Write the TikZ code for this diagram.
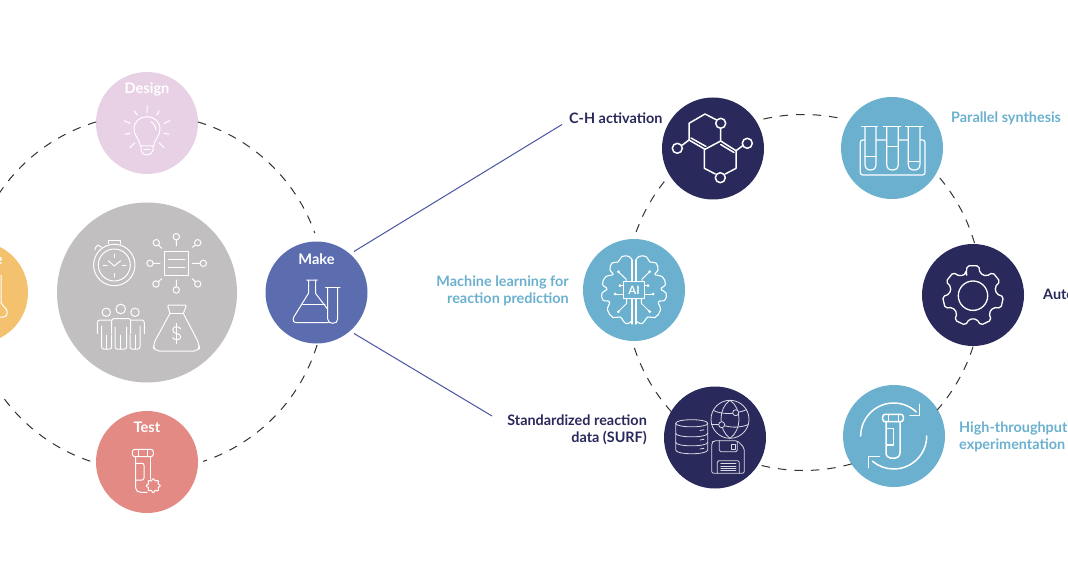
\documentclass[tikz,border=0pt]{standalone}
\usepackage{fontspec}
\setmainfont{Lato}
\definecolor{navy}{HTML}{29295B}
\definecolor{sky}{HTML}{6BB1CF}
\definecolor{cdesign}{HTML}{E8D0E5}
\definecolor{cgrey}{HTML}{C1BFC0}
\definecolor{cmake}{HTML}{5B6DAF}
\definecolor{ctest}{HTML}{E38A85}
\definecolor{corange}{HTML}{F4C16F}
\definecolor{cline}{HTML}{4A55A2}
\definecolor{cdash}{HTML}{333333}
\definecolor{cpale}{HTML}{DADAE6}
\tikzset{
  disc/.style={circle,inner sep=0pt,minimum size=102pt,draw=none},
  ring/.style={draw=cdash,line width=1pt,dash pattern=on 8.5pt off 8pt},
  lead/.style={draw=cline,line width=1pt},
  ico/.style={draw=white,line width=1pt,line cap=round,line join=round},
  icb/.style={draw=white,line width=1.5pt,line cap=round,line join=round},
  icp/.style={draw=cpale,line width=.8pt,line cap=round,line join=round},
  whitelab/.style={text=white,font=\fontsize{14.6}{15}\selectfont\bfseries,inner sep=0pt},
  navylab/.style={text=navy,font=\fontsize{14.4}{17}\selectfont\bfseries,inner sep=0pt},
  skylab/.style={text=sky,font=\fontsize{14.4}{17}\selectfont\bfseries,inner sep=0pt}
}
\begin{document}
\begin{tikzpicture}[x=1pt,y=-1pt]
\useasboundingbox (0,0) rectangle (1068,580);
\clip (0,0) rectangle (1068,580);
\fill[white] (0,0) rectangle (1068,580);
% ring centres
\coordinate (ringL) at (147,292.5);
\coordinate (ringR) at (803.5,292.5);
% discs
\node[disc,fill=cgrey,minimum size=180pt] (resources) at (147,292.5) {};
\node[disc,fill=cdesign] (design) at (147,123) {};
\node[disc,fill=cmake] (make) at (316.5,292.5) {};
\node[disc,fill=ctest] (test) at (147,462) {};
\node[disc,fill=corange] (analyze) at (-23,292.5) {};
\node[disc,fill=navy] (ch) at (713,148.5) {};
\node[disc,fill=sky] (par) at (892,148) {};
\node[disc,fill=navy] (auto) at (973,295) {};
\node[disc,fill=sky] (hte) at (894,436) {};
\node[disc,fill=navy] (surf) at (715,437.5) {};
\node[disc,fill=sky] (ml) at (634,290) {};
% dashed rings
\draw[ring] ([shift={(73.4:178pt)}]ringL) arc[start angle=73.4,end angle=19.5,radius=178pt];
\draw[ring] ([shift={(-17.2:178pt)}]ringL) arc[start angle=-17.2,end angle=-71.6,radius=178pt];
\draw[ring] ([shift={(-108.6:178pt)}]ringL) arc[start angle=-108.6,end angle=-150,radius=178pt];
\draw[ring] ([shift={(106.6:178pt)}]ringL) arc[start angle=106.6,end angle=150,radius=178pt];
\draw[ring] ([shift={(103:178pt)}]ringR) arc[start angle=103,end angle=77.3,radius=178pt];
\draw[ring] ([shift={(40.1:178pt)}]ringR) arc[start angle=40.1,end angle=15.8,radius=178pt];
\draw[ring] ([shift={(-17.7:178pt)}]ringR) arc[start angle=-17.7,end angle=-41.3,radius=178pt];
\draw[ring] ([shift={(-74.3:178pt)}]ringR) arc[start angle=-74.3,end angle=-104.7,radius=178pt];
\draw[ring] ([shift={(-137.9:178pt)}]ringR) arc[start angle=-137.9,end angle=-162.6,radius=178pt];
\draw[ring] ([shift={(160.1:178pt)}]ringR) arc[start angle=160.1,end angle=140.1,radius=178pt];
% labels
\node[whitelab] (ldesign) at (147,89) {Design};
\node[whitelab] (lmake) at (316.5,259.5) {Make};
\node[whitelab] (ltest) at (147,427.5) {Test};
\node[whitelab] (lanalyze) at (-23,260) {Analyze};
\node[navylab,anchor=west] (lch) at (569,118.5) {C-H activation};
\node[skylab,anchor=west] (lpar) at (951,118.5) {Parallel synthesis};
\node[navylab,anchor=west] (lauto) at (1043,294) {Automation};
\node[skylab,anchor=west,align=left] (lhte) at (959,436.5) {High-throughput\\experimentation (HTE)};
\node[skylab,anchor=east,align=right] (lml) at (569,290.5) {Machine learning for\\reaction prediction};
\node[navylab,anchor=east,align=right] (lsurf) at (647,430) {Standardized reaction\\data (SURF)};
% leaders
\coordinate (chend) at (562,124.5);
\coordinate (surfend) at (492,416);
\draw[lead,shorten <=4.5pt] (make.49) -- (chend);
\draw[lead,shorten <=4.5pt] (make.-49) -- (surfend);
% --- bulb
\draw[ico] (140.5,146) .. controls (139.5,139) and (134,136) .. (134,129) .. controls (134,121.5) and (140,116.7) .. (147,116.7) .. controls (154,116.7) and (160,121.5) .. (160,129) .. controls (160,136) and (154.5,139) .. (153.5,146) -- cycle;
\draw[ico] (141,146) -- (141,150) .. controls (141,153) and (144,155) .. (147,155) .. controls (150,155) and (153,153) .. (153,150) -- (153,146);
\draw[ico] (144,150) -- (150,150);
\draw[ico] (150.7,121.7) .. controls (153.5,122.5) and (155.5,126) .. (156,130);
\draw[ico] (147,105.7)--(147,112.7) (134.3,111)--(137.3,115) (159.3,111)--(156.7,115) (124,120.7)--(130,123.3) (170,120.7)--(164,123.3) (125,134.3)--(130,133.3) (169,134.3)--(164,133.3) (130,147.7)--(135,142.7) (164,147.7)--(159,142.7);
% --- make flask
\draw[ico] (306.7,280)--(317.3,280) (308.5,280)--(308.5,293.3)--(293.8,317) .. controls (292,321) and (294,322.7) .. (297,322.7) -- (328.3,322.7);
\draw[ico] (315.5,280)--(315.5,293.3)--(327.7,309.3);
\draw[ico] (302.7,304.3)--(325,304.3);
\draw[ico] (325.7,287.7)--(340,287.7);
\draw[ico] (327.7,287.7)--(327.7,319) .. controls (327.7,322) and (330,323.3) .. (332.7,323.3) .. controls (335.5,323.3) and (337.7,322) .. (337.7,319) -- (337.7,287.7);
% --- analyze flask (clipped)
\draw[ico] (1,275)--(1,303)--(6.5,309.5) .. controls (8,313) and (7,317) .. (3,317) -- (-6,317);
% --- test vial
\draw[ico,rounded corners=2.5pt] (132.3,449.3) rectangle (153.3,456.7);
\draw[ico] (138.3,449.3)--(138.3,456.7) (147.3,449.3)--(147.3,456.7);
\draw[ico] (150.7,456.7)--(150.7,479);
\draw[ico] (135.7,456.7)--(135.7,488) .. controls (135.7,491) and (138,492.3) .. (141,492.3) -- (147,492.3);
\draw[ico,rounded corners=2pt] (135.7,463.3)--(144,463.3)--(144,480)--(135.7,480);
\draw[ico] plot[domain=0:360,samples=65,smooth] ({153.3+(6+0.9*cos(8*\x))*cos(\x)},{485.7+(6+0.9*cos(8*\x))*sin(\x)});
% --- stopwatch
\draw[ico] (114.3,265) circle[radius=20.7pt] (114.3,265) circle[radius=16pt];
\draw[ico] (108.3,244)--(108.3,240)--(120.7,240)--(120.7,244);
\draw[ico] (95,250)--(95,248.3)--(97.7,245)--(101.7,247.3);
\draw[ico] (108.3,260.7)--(114.3,266)--(120.7,260.7);
\draw[ico] (114.3,254)--(114.3,257.5) (114.3,273.5)--(114.3,277) (103.3,265)--(107,265) (122.3,265)--(126,265);
% --- network
\draw[ico] (164.3,251.7) rectangle (188.3,275);
\draw[ico] (168.3,259.3)--(185,259.3) (168.3,267.3)--(185,267.3);
\draw[ico] (176.3,236.7) circle[radius=3.2pt] (176.3,239.9)--(176.3,245.7);
\draw[ico] (176.3,290) circle[radius=3.2pt] (176.3,286.8)--(176.3,280);
\draw[ico] (203.3,263.3) circle[radius=3.2pt] (200.1,263.3)--(192.3,263.3);
\draw[ico] (150,263.3) circle[radius=3.2pt] (153.2,263.3)--(160,263.3);
\draw[ico] (197.7,242.7) circle[radius=3.2pt] (195.4,245)--(192.3,247.3);
\draw[ico] (156.3,242.7) circle[radius=3.2pt] (158.6,245)--(161.7,248.3);
\draw[ico] (197.7,284) circle[radius=3.2pt] (195.4,281.7)--(192.3,278.7);
\draw[ico] (156,284) circle[radius=3.2pt] (158.3,281.7)--(161.7,278.7);
% --- people
\draw[ico] (106.3,312.3) circle[radius=4.2pt] (120.7,309) circle[radius=4.8pt] (135,312.3) circle[radius=4.2pt];
\draw[ico,rounded corners=2.5pt] (111.7,333.5)--(111.7,318.5)--(130.7,318.5)--(130.7,333.5);
\draw[ico,rounded corners=2pt] (115,327)--(115,349)--(126.7,349)--(126.7,327);
\draw[ico] (120.8,335)--(120.8,349);
\draw[ico,rounded corners=2.5pt] (111.5,320)--(97.3,320)--(97.3,333.5) (101.7,326)--(101.7,333);
\draw[ico,rounded corners=2pt] (101.7,333)--(101.7,349)--(111.7,349)--(111.7,335);
\draw[ico] (106.5,335)--(106.5,349);
\draw[ico,rounded corners=2.5pt] (131,320)--(144.3,320)--(144.3,333.5) (140,326)--(140,333);
\draw[ico,rounded corners=2pt] (140,333)--(140,349)--(130,349)--(130,335);
\draw[ico] (135,335)--(135,349);
% --- money bag
\draw[ico,rounded corners=1.5pt] (170,313.3)--(167.3,305)--(186.7,305)--(183.3,313.3);
\draw[ico] (170,313.3)--(183.3,313.3);
\draw[ico,rounded corners=5pt] (170,313.3)--(153.3,344)--(154,351)--(199.3,351)--(199.3,344)--(183.3,313.3);
\draw[ico] (176.7,323.3)--(176.7,343.3);
\draw[ico] (180.7,329) .. controls (180.7,326.5) and (172.7,325) .. (172.7,330) .. controls (172.7,335) and (180.7,332) .. (180.7,337) .. controls (180.7,341) and (172.7,340) .. (172.7,337.5);
% --- molecule
\draw[icb] (720.7,123.3) circle[radius=5pt] (720.3,177.7) circle[radius=5pt] (677.3,148.3) circle[radius=5pt] (747.3,143.3) circle[radius=5pt];
\draw[icb] (716.7,120)--(705,114)--(689,123.3)--(689,140)--(705,149.3)--(720.7,141)--(720.7,128.3);
\draw[icb] (720.7,141)--(736,150.7)--(736,168.3)--(725.3,174);
\draw[icb] (715.3,174)--(704.3,168.3)--(704.3,149.3);
\draw[icb] (691,138)--(706,146.5) (720.7,144.5)--(734,152.5);
\draw[icb] (689,140)--(681.8,145.5) (736,150.7)--(742.7,145.7);
% --- rack
\draw[ico,line width=1.2pt,rounded corners=2.5pt] (860.3,140) rectangle (925,175);
\foreach \l/\r/\a/\b/\v in {865/876/861.7/877.3/156.7,886.7/898.3/883.3/900.7/146.7,908.3/920/905.7/922.7/161.7}{
  \fill[sky] (\l,127) rectangle (\r,166);
  \draw[ico,line width=1.2pt] (\a,126.7)--(\b,126.7);
  \draw[ico,line width=1.2pt] (\l,126.7)--(\l,164) .. controls (\l,168) and ({\l+2},170) .. ({(\l+\r)/2},170) .. controls ({\r-2},170) and (\r,168) .. (\r,164) -- (\r,126.7);
  \draw[ico,line width=1.2pt] (\l,\v)--(\r,\v);
}
% --- gear
\draw[icb,line width=1.3pt] (973,295.7) circle[radius=14.7pt];
\draw[icb,line width=1.3pt,rounded corners=2pt] ({973+23*cos(-107)},{295.7+23*sin(-107)})
  \foreach \k [evaluate=\k as \a using {-90+\k*360/7}] in {0,...,6}{
    -- ({973+23.5*cos(\a-17)},{295.7+23.5*sin(\a-17)})
    -- ({973+30.5*cos(\a-11)},{295.7+30.5*sin(\a-11)})
    -- ({973+30.5*cos(\a+11)},{295.7+30.5*sin(\a+11)})
    -- ({973+23.5*cos(\a+17)},{295.7+23.5*sin(\a+17)})
  } -- cycle;
% --- HTE
\coordinate (htec) at (893.7,436);
\draw[icb] ([shift={(180:33pt)}]htec) arc[start angle=180,end angle=47,radius=33pt];
\draw[icb] ([shift={(0:33pt)}]htec) arc[start angle=0,end angle=-130,radius=33pt];
\draw[icb] (910,415.7)--(919.3,415.7)--(919.3,404.3);
\draw[icb] (879.3,456.7)--(868.3,456.7)--(868.3,467.7);
\draw[icb,rounded corners=2.5pt] (882.7,414.3) rectangle (903.3,421.7);
\draw[icb] (888.3,414.3)--(888.3,421.7) (898.3,414.3)--(898.3,421.7);
\draw[icb] (886,421.7)--(886,453) .. controls (886,456.5) and (889,458.3) .. (893,458.3) .. controls (897,458.3) and (900,456.5) .. (900,453) -- (900,421.7);
\draw[icb] (886.7,428.3)--(893.3,428.3)--(893.3,445)--(886.7,445);
% --- SURF
\draw[icp] (675.7,423.3) .. controls (675.7,418.5) and (707.7,418.5) .. (707.7,423.3) -- (707.7,450) .. controls (707.7,455) and (675.7,455) .. (675.7,450) -- cycle;
\draw[icp] (675.7,423.3) .. controls (675.7,428) and (707.7,428) .. (707.7,423.3);
\draw[icp] (675.7,433.3) .. controls (675.7,438) and (707.7,438) .. (707.7,433.3);
\draw[icp] (675.7,442.3) .. controls (675.7,447) and (707.7,447) .. (707.7,442.3);
\draw[icp] (700,430.5)--(704,429.8) (700,440)--(704,439.3) (700,449)--(704,448.3);
\draw[icp] (730,419.3) circle[radius=19pt];
\draw[icp] (730,400.3) .. controls (718,408) and (718,430) .. (730,438.3);
\draw[icp] (730,400.3) .. controls (742,408) and (742,430) .. (730,438.3);
\draw[icp] (713.5,410.5) .. controls (720,414) and (732,414) .. (735.7,412.7) .. controls (740,412) and (744,411) .. (746.5,409.5);
\draw[icp] (711.5,424.5) -- (721.7,424.7) .. controls (730,428) and (740,428) .. (748.5,424.5);
\draw[icp,fill=navy] (735.7,412.7) circle[radius=3pt] (721.7,424.7) circle[radius=3pt];
\draw[icp,line join=round,rounded corners=2pt] (711.7,443) -- (711.7,473.3) -- (744.3,473.3) -- (744.3,448) -- (737.5,440.7) -- (713.5,440.7) -- cycle;
\draw[icp,rounded corners=1.5pt] (719.3,440.7)--(719.3,451.7)--(737.3,451.7)--(737.3,441.5);
\draw[icp] (731.7,444) rectangle (735,449);
\draw[icp,rounded corners=1.5pt] (717.3,473.3)--(717.3,460.7)--(739.3,460.7)--(739.3,473.3);
\draw[icp] (720.7,463.7)--(736,463.7) (720.7,466)--(736,466) (720.7,468.3)--(736,468.3) (720.7,470.7)--(736,470.7);
% --- brain
\foreach \s in {1,-1}{
\begin{scope}[shift={(634,290)},xscale=\s]
  \draw[ico,line width=1.1pt] plot[smooth,tension=.75] coordinates {(-2,-30) (-5,-33.5) (-12,-33.5) (-16,-28) (-22,-27) (-24,-20) (-21,-15.5) (-28,-13.5) (-31.5,-6) (-27,-1) (-32,3) (-31,10) (-24.5,12) (-26.5,20) (-21,27.5) (-14,27) (-8,33.5) (-2,31)};
  \draw[ico,line width=1.1pt] (-2,-30)--(-2,-8.3) (-2,8.7)--(-2,34);
  \draw[ico,line width=1pt] (-15.7,-18.3)--(-8,-11)--(-8,-8.3);
  \draw[ico,line width=1pt] (-10.7,-4.3)--(-14,-4.3);
  \draw[ico,line width=1pt] (-10.7,4)--(-19,4);
  \draw[ico,line width=1pt] (-15.7,21.7)--(-7.3,13.3)--(-7.3,8.7);
  \fill[white] (-15.7,-18.3) circle[radius=1.5pt] (-14,-4.3) circle[radius=1.5pt] (-19,4) circle[radius=1.5pt] (-15.7,21.7) circle[radius=1.5pt];
\end{scope}}
\draw[ico,line width=1.1pt] (623.5,281.7) rectangle (644.5,298.7);
\node[text=white,inner sep=0pt,font=\fontsize{11.5}{12}\selectfont\bfseries] (ai) at (634,290.2) {AI};
\end{tikzpicture}
\end{document}
